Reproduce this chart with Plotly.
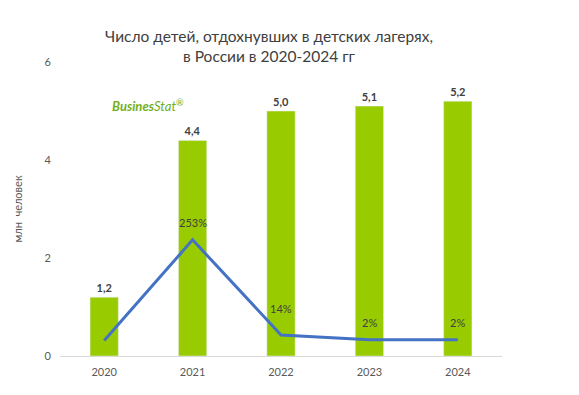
import plotly.graph_objects as go

years = ["2020", "2021", "2022", "2023", "2024"]
children_mln = [1.2, 4.4, 5.0, 5.1, 5.2]
bar_labels = ["1,2", "4,4", "5,0", "5,1", "5,2"]
growth_pct = [0, 253, 14, 2, 2]
growth_labels = ["", "253%", "14%", "2%", "2%"]

# label placement (pixels above the line point), style only
label_shift = [0, 17, 26, 17, 17]

FONT = "Lato, 'Liberation Sans', sans-serif"
GREEN = "#99CC00"
BLUE = "#4472C4"
TXT = "#595959"

# page body has an 8px default margin; figure sized to fit inside the window
W, H = 571, 387
L, R, T, B = 52, 77, 54, 39
PW, PH = W - L - R, H - T - B

fig = go.Figure()
fig.add_trace(go.Bar(
    x=years, y=children_mln, width=0.32, marker_color=GREEN,
    text=bar_labels, textposition="outside", cliponaxis=False,
    textfont=dict(family=FONT, size=11, color="#404040", weight="bold"),
    hoverinfo="skip", showlegend=False,
))
fig.add_trace(go.Scatter(
    x=years, y=growth_pct, yaxis="y2", mode="lines",
    line=dict(color=BLUE, width=3),
    hoverinfo="skip", showlegend=False,
))

annotations = [
    dict(
        text="<b><i>Busines</i></b><i>Stat</i><sup>®</sup>",
        xref="paper", yref="paper", x=(110 - 60) / PW, y=(356 - 105) / PH,
        xanchor="left", yanchor="middle", showarrow=False,
        font=dict(family=FONT, size=13, color="#72B01D"),
    )
]
for i, (g, lab, sh) in enumerate(zip(growth_pct, growth_labels, label_shift)):
    if lab:
        annotations.append(dict(
            x=i, y=g, xref="x", yref="y2", text=lab, showarrow=False,
            yshift=sh, xanchor="center", yanchor="middle",
            font=dict(family=FONT, size=11, color="#404040"),
        ))

fig.update_layout(
    width=W, height=H,
    margin=dict(l=L, r=R, t=T, b=B, autoexpand=False),
    paper_bgcolor="white", plot_bgcolor="white",
    font=dict(family=FONT, size=11, color=TXT),
    title=dict(
        text="Число детей, отдохнувших в детских лагерях,<br>в России в 2020-2024 гг",
        x=(269 - 8) / W, xanchor="center", y=1 - (41.5 - 8) / H, yanchor="middle",
        font=dict(family=FONT, size=15.5, color="#404040"),
    ),
    xaxis=dict(
        type="category", automargin=False,
        showgrid=False, showline=True, linecolor="#D9D9D9", linewidth=1,
        ticks="", tickfont=dict(family=FONT, size=11, color=TXT),
        ticklabelstandoff=6,
    ),
    yaxis=dict(
        range=[0, 6], tickvals=[0, 2, 4, 6], showgrid=False, zeroline=False,
        showline=False, ticks="", tickfont=dict(family=FONT, size=11, color=TXT),
        ticklabelstandoff=8, automargin=False,
        title=dict(text="млн  человек", font=dict(family=FONT, size=11, color=TXT), standoff=19),
    ),
    yaxis2=dict(range=[-39, 700], overlaying="y", visible=False),
    annotations=annotations,
)

fig.write_html("out.html", config={"displayModeBar": False})
